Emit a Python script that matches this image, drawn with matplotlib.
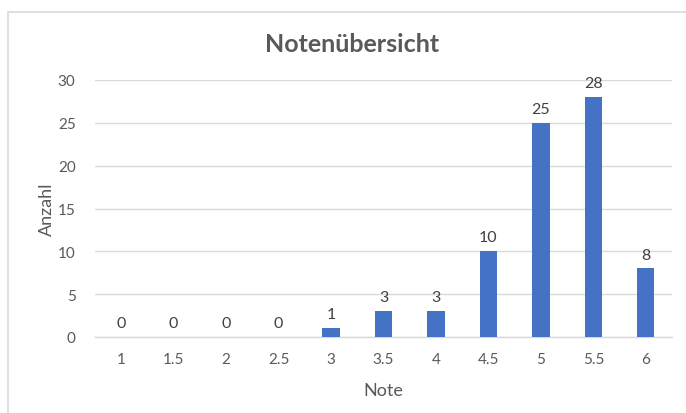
import numpy as np
import matplotlib.pyplot as plt
from matplotlib.patches import Rectangle

# Daten
noten = ["1", "1.5", "2", "2.5", "3", "3.5", "4", "4.5", "5", "5.5", "6"]
anzahl = [0, 0, 0, 0, 1, 3, 3, 10, 25, 28, 8]

grau = "#595959"
plt.rcParams['font.family'] = ['Lato', 'DejaVu Sans']

fig = plt.figure(figsize=(6.86, 4.14), dpi=100)
ax = fig.add_axes([95 / 686, 1 - 338 / 414, (672 - 95) / 686, (338 - 81) / 414])

# Rahmen um das Diagramm (rechts und unten abgeschnitten)
fig.patches.append(Rectangle((8 / 686, -0.1), 1.2, 1 - 13 / 414 + 0.1,
                             transform=fig.transFigure, fill=False,
                             edgecolor="#d9d9d9", lw=1.2))

x = np.arange(len(noten))
balken = ax.bar(x, anzahl, width=0.33, color="#4472C4", zorder=3)

for xi, wert in zip(x, anzahl):
    ax.annotate(str(wert), (xi, wert), xytext=(0, 5), textcoords="offset points",
                ha="center", va="bottom", fontsize=11.5, color="#404040")

ax.set_xlim(-0.5, len(noten) - 0.5)
ax.set_ylim(0, 30)
ax.set_yticks(range(0, 31, 5))
ax.set_xticks(x)
ax.set_xticklabels(noten)
ax.grid(axis="y", color="#d9d9d9", lw=1, zorder=0)
for s in ["top", "right", "left"]:
    ax.spines[s].set_visible(False)
ax.spines["bottom"].set_color("#d9d9d9")
ax.spines["bottom"].set_linewidth(1)
ax.tick_params(length=0, labelsize=11, colors=grau)
ax.tick_params(axis="x", pad=11)
ax.tick_params(axis="y", pad=14)

ax.set_xlabel("Note", fontsize=13, color=grau, labelpad=11)
ax.set_ylabel("Anzahl", fontsize=13, color=grau, labelpad=2)
fig.text(352 / 686, 1 - 44 / 414, "Notenübersicht", ha="center", va="center",
         fontsize=18, fontweight="bold", color=grau)

fig.savefig("out.png", dpi=100)
